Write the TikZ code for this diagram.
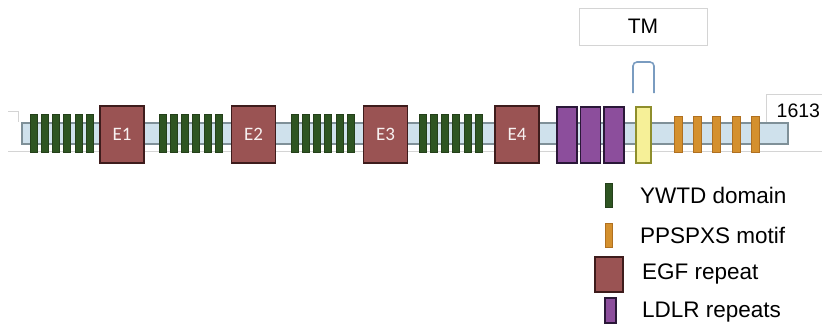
\documentclass[tikz,border=0pt]{standalone}
\usepackage{fontspec}
\setmainfont{Liberation Sans}
\newfontfamily\calib{Carlito}
\definecolor{barF}{HTML}{CFE1EC}
\definecolor{barB}{HTML}{7F9098}
\definecolor{ywtdF}{HTML}{2E5522}
\definecolor{ywtdB}{HTML}{24401A}
\definecolor{ppsF}{HTML}{D4902E}
\definecolor{ppsB}{HTML}{B07020}
\definecolor{egfF}{HTML}{9A5353}
\definecolor{egfB}{HTML}{3E1C1C}
\definecolor{ldlF}{HTML}{8C4E9C}
\definecolor{ldlB}{HTML}{2A1838}
\definecolor{tmF}{HTML}{F6F098}
\definecolor{tmB}{HTML}{8E8E2C}
\definecolor{brk}{HTML}{7A9CC0}
\definecolor{faint}{HTML}{D4D4D4}
\tikzset{
  backbone/.style={draw=barB, fill=barF, line width=1.2pt, minimum width=766pt, minimum height=21pt, inner sep=0pt},
  ywtd/.style={draw=ywtdB, fill=ywtdF, line width=0.5pt, minimum width=7pt, minimum height=38pt, inner sep=0pt},
  pps/.style={draw=ppsB, fill=ppsF, line width=0.5pt, minimum width=8pt, minimum height=36pt, inner sep=0pt},
  egf/.style={draw=egfB, fill=egfF, line width=1.2pt, minimum width=44pt, minimum height=57pt, inner sep=0pt, text=white!92!egfF, font=\calib\fontsize{19}{22}\selectfont},
  ldlr/.style={draw=ldlB, fill=ldlF, line width=1.4pt, minimum width=20pt, minimum height=56pt, inner sep=0pt},
  tmseg/.style={draw=tmB, fill=tmF, line width=1.4pt, minimum width=15pt, minimum height=56pt, inner sep=0pt},
  faintline/.style={draw=faint, line width=0.8pt},
  tmlabel/.style={draw=faint, line width=0.8pt, minimum width=128pt, minimum height=37pt, inner sep=0pt, font=\fontsize{21}{24}\selectfont},
  legtext/.style={anchor=west, inner sep=0pt, font=\fontsize{22.5}{26}\selectfont},
  bracket/.style={draw=brk, line width=1.6pt, rounded corners=4pt},
}
\begin{document}
\begin{tikzpicture}[x=1pt,y=-1pt]
\useasboundingbox (0,0) rectangle (822,333);
% faint text box outlines
\draw[faintline] (8,111) -- (18,111) -- (18,122);
\draw[faintline] (8,151) -- (822,151);
\draw[faintline] (822,94) -- (766,94) -- (766,122);
\node[anchor=west, inner sep=0pt, font=\fontsize{19.5}{22}\selectfont] (len) at (776.5,111) {1613};
% TM label
\node[tmlabel] (tm) at (643,26.5) {TM};
\coordinate (bl) at (633,93);
\coordinate (br) at (654,93);
\draw[bracket] (bl) -- (633,62) -- (654,62) -- (br);
% backbone
\node[backbone] (bb) at (405,133.5) {};
% YWTD groups
\foreach \g/\s in {1/33.5, 2/162.5, 3/294.5, 4/422.5}{
  \foreach \i in {0,...,5}{
    \node[ywtd] (y\g\i) at ({\s+11.2*\i},133) {};
  }
}
% EGF
\node[egf] (e1) at (122,134.5) {E1};
\node[egf] (e2) at (253.5,134.5) {E2};
\node[egf] (e3) at (385.5,134.5) {E3};
\node[egf] (e4) at (517,134.5) {E4};
% LDLR
\node[ldlr] (l1) at (567,135) {};
\node[ldlr] (l2) at (590.5,135) {};
\node[ldlr] (l3) at (614,135) {};
% TM segment
\node[tmseg] (tms) at (643.5,135) {};
% PPSPXS
\foreach \i in {0,...,4}{
  \node[pps] (p\i) at ({678+19.3*\i},134) {};
}
% legend
\node[ywtd, minimum height=24pt] (ly) at (608.5,195) {};
\node[legtext] (lyt) at (640,195) {YWTD domain};
\node[pps, minimum width=7pt, minimum height=24pt] (lp) at (608.5,235) {};
\node[legtext] (lpt) at (640,235) {PPSPXS motif};
\node[egf, minimum width=28pt, minimum height=35pt] (le) at (609,274.5) {};
\node[legtext] (let) at (642,274) {EGF repeat};
\node[ldlr, minimum width=11pt, minimum height=25pt] (ll) at (610.5,310.5) {};
\node[legtext] (llt) at (642,312) {LDLR repeats};
\end{tikzpicture}
\end{document}
